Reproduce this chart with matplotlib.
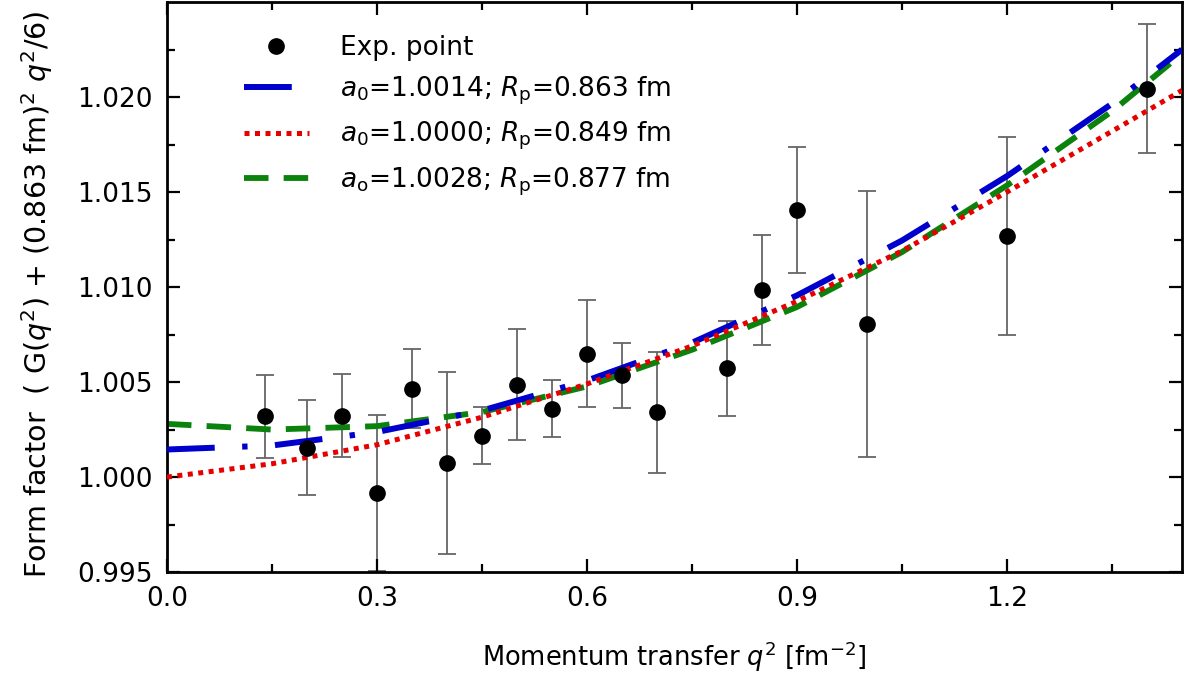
import matplotlib
matplotlib.use("Agg")
import matplotlib.pyplot as plt
import numpy as np

plt.rcParams['font.family'] = ['DejaVu Sans']
plt.rcParams['mathtext.fontset'] = 'dejavusans'

# Experimental points
q2_exp = [0.14, 0.20, 0.25, 0.30, 0.35, 0.40, 0.45, 0.50, 0.55, 0.60, 0.65, 0.70, 0.80, 0.85, 0.90, 1.00, 1.20, 1.40]
ff_exp = [1.00319, 1.00154, 1.00323, 0.99914, 1.00466, 1.00075, 1.00217, 1.00487, 1.00360, 1.00650, 1.00535, 1.00340, 1.00572, 1.00984, 1.01405, 1.00805, 1.01268, 1.02044]
ff_err = [0.0022, 0.0025, 0.0022, 0.0041, 0.0021, 0.0048, 0.0015, 0.0029, 0.0015, 0.0028, 0.0017, 0.0032, 0.0025, 0.0029, 0.0033, 0.0070, 0.0052, 0.0034]

# Fit curves
q2_fit = [0.0, 0.15, 0.30, 0.45, 0.60, 0.75, 0.90, 1.05, 1.20, 1.35, 1.45]
ff_blue = [1.00145, 1.00166, 1.00237, 1.00350, 1.00508, 1.00707, 1.00956, 1.01245, 1.01584, 1.01965, 1.02250]
ff_red = [1.00000, 1.00070, 1.00170, 1.00315, 1.00490, 1.00690, 1.00925, 1.01190, 1.01500, 1.01820, 1.02035]
ff_green = [1.00280, 1.00250, 1.00268, 1.00342, 1.00477, 1.00670, 1.00895, 1.01184, 1.01535, 1.01925, 1.02228]

labels = ["Exp. point",
          r"$a_0$=1.0014; $R_\mathrm{p}$=0.863 fm",
          r"$a_0$=1.0000; $R_\mathrm{p}$=0.849 fm",
          r"$a_\mathrm{o}$=1.0028; $R_\mathrm{p}$=0.877 fm"]

xticks = [0.0, 0.3, 0.6, 0.9, 1.2]
yticks = [0.995, 1.000, 1.005, 1.010, 1.015, 1.020]

fig = plt.figure(figsize=(11.85, 6.77), dpi=100)
ax = fig.add_axes([0.1409, 0.155, 0.8566, 0.842])

ax.errorbar(q2_exp, ff_exp, yerr=ff_err, fmt='none', ecolor='#666666',
            elinewidth=1.3, capsize=6.3, capthick=1.3, zorder=1)

l_green, = ax.plot(q2_fit, ff_green, color='#0b820b', lw=4.2,
                   linestyle=(0, (4.2, 2.6)), zorder=2)
l_blue, = ax.plot(q2_fit, ff_blue, color='#0000cc', lw=4.3,
                  linestyle=(0, (8, 4.6, 0.9, 4.6)), zorder=3)
l_red, = ax.plot(q2_fit, ff_red, color='#e60000', lw=3.6,
                 linestyle=(0, (1, 1.1)), zorder=4)
pts, = ax.plot(q2_exp, ff_exp, 'o', color='black', markersize=11,
               linestyle='none', zorder=5)

ax.set_xlim(0, 1.45)
ax.set_ylim(0.995, 1.025)
ax.set_xticks(xticks)
ax.set_xticklabels([f"{v:.1f}" for v in xticks])
ax.set_yticks(yticks)
ax.set_yticklabels([f"{v:.3f}" for v in yticks])
ax.set_xticks(np.arange(0.15, 1.45, 0.3), minor=True)
ax.set_yticks(np.arange(0.9975, 1.025, 0.005), minor=True)

ax.tick_params(which='both', direction='in', top=True, right=True,
               width=1.6, labelsize=19)
ax.tick_params(which='major', length=9.5, pad=10)
ax.tick_params(which='minor', length=5.5)
for s in ax.spines.values():
    s.set_linewidth(2.0)

ax.set_xlabel(r"Momentum transfer $q^2$ [fm$^{-2}$]", fontsize=18.5, labelpad=20)
ax.set_ylabel(r"Form factor  ( G($q^2$) + (0.863 fm)$^2$ $q^2$/6)", fontsize=20.5)
ax.yaxis.set_label_coords(-0.110, 0.487)

leg = ax.legend([pts, l_blue, l_red, l_green], labels, loc='upper left',
                bbox_to_anchor=(0.065, 0.960), borderaxespad=0, frameon=False,
                fontsize=19, handlelength=2.5, handletextpad=1.15,
                labelspacing=0.50)

fig.savefig("out.png", dpi=100)
